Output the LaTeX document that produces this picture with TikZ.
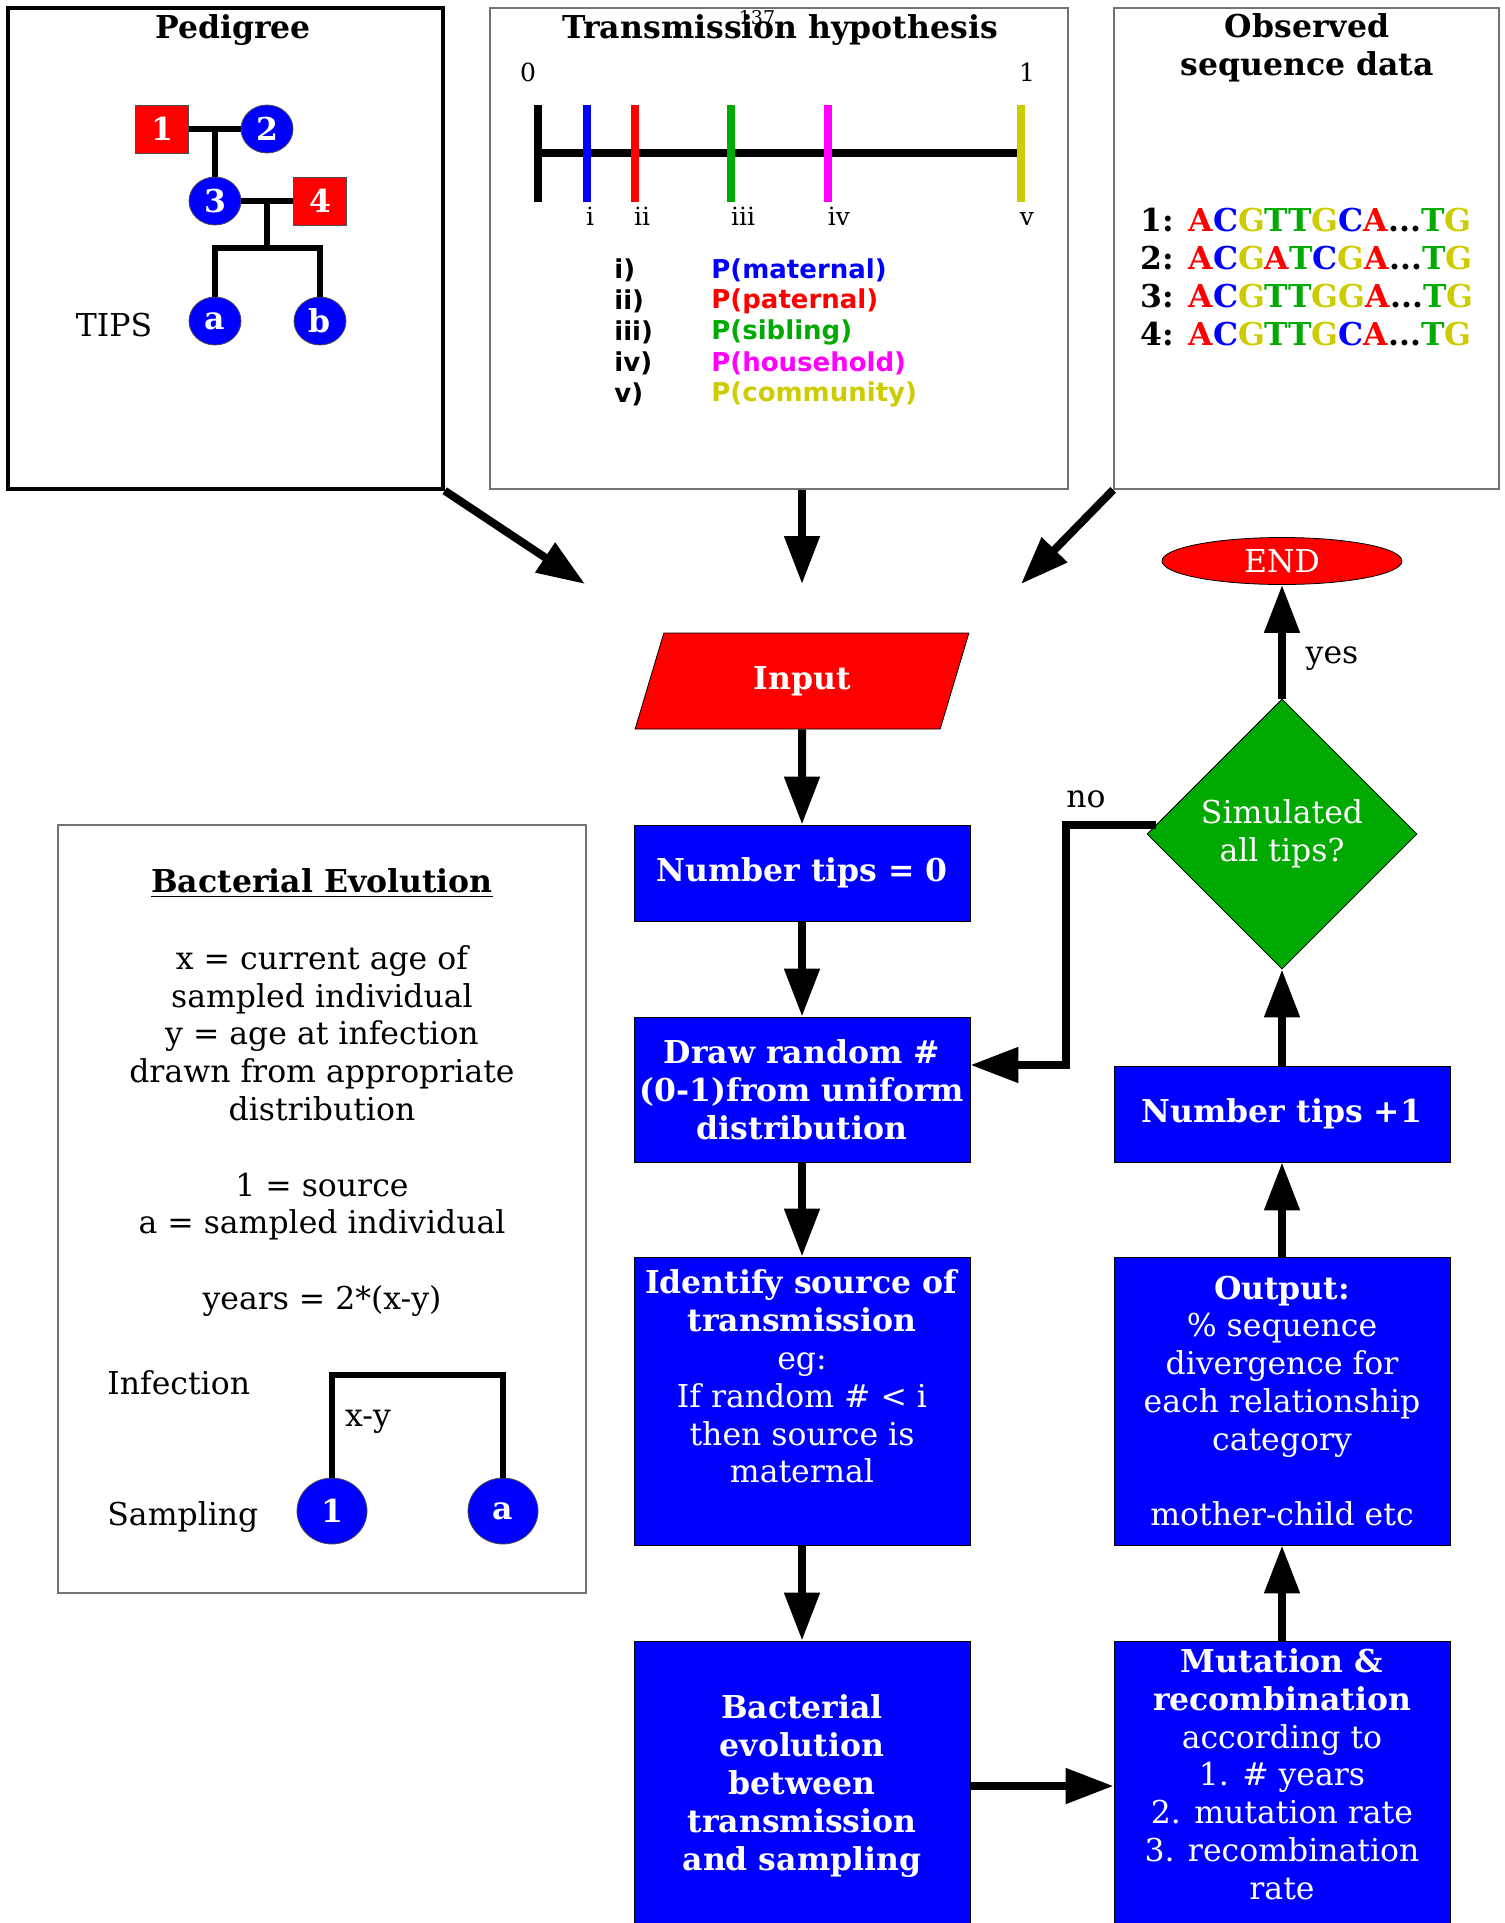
\documentclass[tikz,border=0pt]{standalone}
\usepackage{fontspec}
\setmainfont{DejaVu Serif}
\newfontfamily\legendfont{DejaVu Sans}
\usetikzlibrary{arrows.meta,shapes.geometric}

\definecolor{seqred}{RGB}{255,0,0}
\definecolor{seqblue}{RGB}{0,0,255}
\definecolor{seqgreen}{RGB}{0,170,0}
\definecolor{seqyellow}{RGB}{204,204,0}
\definecolor{seqpink}{RGB}{255,0,255}

\newcommand{\bodyfont}{\fontsize{15.75}{18.9}\selectfont}
\newcommand{\smallfont}{\fontsize{12.5}{15}\selectfont}
\newcommand{\nA}{\textcolor{seqred}{A}}
\newcommand{\nC}{\textcolor{seqblue}{C}}
\newcommand{\nG}{\textcolor{seqyellow}{G}}
\newcommand{\nT}{\textcolor{seqgreen}{T}}

\begin{document}
\begin{tikzpicture}[x=0.5pt,y=-0.5pt,font=\bodyfont,
	>={Triangle[length=24pt,width=17pt]},
	panel/.style={draw=black!55,line width=0.8pt},
	stepbox/.style={draw=black,line width=0.4pt,fill=seqblue,text=white,
		minimum width=168pt,align=center,inner sep=1pt},
	flow/.style={->,line width=4pt},
	tree/.style={line width=3.4pt},
	timeline/.style={line width=3.7pt},
	male/.style={draw=black!70,line width=0.4pt,fill=seqred,text=white,
		font=\bodyfont\bfseries,minimum width=26.5pt,minimum height=24pt,inner sep=0pt},
	female/.style={ellipse,draw=black!70,line width=0.4pt,fill=seqblue,text=white,
		font=\bodyfont\bfseries,minimum width=26pt,minimum height=24pt,inner sep=0pt},
	legend/.style={font=\legendfont\fontsize{13}{15.5}\selectfont\bfseries,anchor=west,inner sep=0pt}]
\useasboundingbox (0,0) rectangle (1505,1923);

%----------------------------
% Top left: pedigree
%----------------------------
\node[draw,line width=1.7pt,minimum width=217.5pt,minimum height=240.5pt] (pedbox) at (225.5,248.5) {};
\node (pedtitle) at (233,30) {\bfseries Pedigree};

\node[male] (p1) at (162,129) {1};
\node[female] (p2) at (267,129) {2};
\node[female] (p3) at (215,201) {3};
\node[male] (p4) at (320,201) {4};
\node[female] (pa) at (215,321) {a};
\node[female] (pb) at (320,321) {b};
\node[inner sep=0pt] (tips) at (114,325) {TIPS};

% parents and children
\coordinate (sibbar) at (267,248);
\draw[tree] (p1) -- (p2);
\draw[tree] (p3.north |- p1) -- (p3.north);
\draw[tree] (p3) -- (p4);
\draw[tree] (sibbar |- p3) -- (sibbar);
\draw[tree] (pa.north) |- (sibbar) -| (pb.north);

%----------------------------
% Top middle: transmission hypothesis
%----------------------------
\node[panel,minimum width=289pt,minimum height=240.5pt] (transbox) at (779,248.5) {};
\node (transtitle) at (780,30) {\bfseries Transmission hypothesis};
\node[font=\fontsize{9.5}{10}\selectfont,inner sep=0pt] (pagenum) at (757,18) {137};

% line from 0 to 1
\draw[timeline] (538,153) -- (1021,153);
\foreach \x/\c in {538/black,587/seqblue,635/seqred,731/seqgreen,828/seqpink,1021/seqyellow}
	\draw[timeline,\c] (\x,105) -- (\x,202);
\node[font=\smallfont,anchor=base] (zero) at (528,81) {0};
\node[font=\smallfont,anchor=base] (one) at (1027,81) {1};
\foreach \x/\n in {590/i,642/ii,743/iii,839/iv,1027/v}
	\node[font=\smallfont,anchor=base] (tick-\n) at (\x,225) {\n};

% probabilities
\foreach \n/\lab/\c/\y in {i/maternal/seqblue/270,ii/paternal/seqred/301,
	iii/sibling/seqgreen/332,iv/household/seqpink/363,v/community/seqyellow/394}{
	\node[legend] (num-\n) at (614,\y) {\n)};
	\node[legend,text=\c] (prob-\n) at (711,\y) {P(\lab)};
}

%----------------------------
% Top right: observed sequences
%----------------------------
\node[panel,minimum width=192.5pt,minimum height=240.5pt] (obsbox) at (1306.5,248.5) {};
\node[align=center,font=\bodyfont\bfseries] (obstitle) at (1307,48) {Observed\\sequence data};
\node[align=left,anchor=west,font=\bodyfont\bfseries,inner sep=0pt] (seqs) at (1140,277)
	{1: \nA\nC\nG\nT\nT\nG\nC\nA...\nT\nG\\
	 2: \nA\nC\nG\nA\nT\nC\nG\nA...\nT\nG\\
	 3: \nA\nC\nG\nT\nT\nG\nG\nA...\nT\nG\\
	 4: \nA\nC\nG\nT\nT\nG\nC\nA...\nT\nG};

% inputs into the model
\coordinate (pedtip) at (585,584);
\coordinate (transtip) at (802,584);
\coordinate (obstip) at (1021,584);
\draw[flow] (pedbox.south east) -- (pedtip);
\draw[flow] (transbox.south -| transtip) -- (transtip);
\draw[flow] (obsbox.south west) -- (obstip);

%----------------------------
% Left: bacterial evolution
%----------------------------
\node[panel,minimum width=264pt,minimum height=384pt] (evobox) at (322,1209) {};
\node (evotitle) at (322,883) {\underline{\bfseries Bacterial Evolution}};
\node[align=center] (evotext) at (322,1131)
	{x = current age of\\sampled individual\\y = age at infection\\
	 drawn from appropriate\\distribution\\[18.9pt]
	 1 = source\\a = sampled individual\\[18.9pt]
	 years = 2*(x-y)};
\node[anchor=west,inner sep=0pt] (infection) at (107,1383) {Infection};
\node[anchor=west,inner sep=0pt] (sampling) at (107,1517) {Sampling};
\node[female,minimum width=35pt,minimum height=33pt] (e1) at (332,1511) {1};
\node[female,minimum width=35pt,minimum height=33pt] (ea) at (503,1511) {a};
\coordinate (infect) at (420,1375);
\draw[tree] (e1.north) |- (infect) -| (ea.north);
\node (xy) at (368,1422) {x-y};

%----------------------------
% Flowchart
%----------------------------
\node[trapezium,trapezium left angle=75,trapezium right angle=105,trapezium stretches=true,
	draw,line width=0.4pt,fill=seqred,text=white,minimum width=168pt,minimum height=48pt,
	font=\bodyfont\bfseries] (input) at (802,681) {Input};
\node[stepbox,minimum height=48pt,font=\bodyfont\bfseries] (tips0) at (802,873) {Number tips = 0};
\node[stepbox,minimum height=72.5pt,font=\bodyfont\bfseries] (random) at (802,1089.5)
	{Draw random \#\\(0-1)from uniform\\distribution};
\node[stepbox,minimum height=144pt] (source) at (802,1401)
	{\textbf{Identify source of}\\\textbf{transmission}\\eg:\\If random \# < i\\then source is\\maternal\\\strut};
\node[stepbox,minimum height=145pt,font=\bodyfont\bfseries] (evol) at (802,1786)
	{Bacterial\\evolution\\between\\transmission\\and sampling};

\node[stepbox,minimum height=145pt,text depth=12pt] (mutate) at (1282,1786)
	{\textbf{Mutation \&}\\\textbf{recombination}\\according to\\1. \# years\\2. mutation rate\\3. recombination\\rate};
\node[stepbox,minimum height=144pt] (output) at (1282,1401)
	{\textbf{Output:}\\\% sequence\\divergence for\\each relationship\\category\\[18.9pt]mother-child etc};
\node[stepbox,minimum height=48pt,font=\bodyfont\bfseries] (tips1) at (1282,1114) {Number tips +1};
\node[diamond,draw,line width=0.4pt,fill=seqgreen,text=white,minimum width=135pt,minimum height=135pt,
	inner sep=0pt,align=center] (alltips) at (1282,834) {Simulated\\all tips?};
\node[ellipse,draw,line width=0.4pt,fill=seqred,text=white,minimum width=120pt,minimum height=23.5pt,
	inner sep=0pt] (stop) at (1282,561) {END};

\draw[flow] (input) -- (tips0);
\draw[flow] (tips0) -- (random);
\draw[flow] (random) -- (source);
\draw[flow] (source) -- (evol);
\draw[flow] (evol) -- (mutate);
\draw[flow] (mutate) -- (output);
\draw[flow] (output) -- (tips1);
\draw[flow] (tips1) -- (alltips);
\draw[flow] (alltips) -- (stop);
\node (yes) at (1332,659) {yes};

% back to the next tip
\coordinate (nocorner) at (1066,1065);
\draw[flow] ([shift={(4.5pt,4.5pt)}]alltips.west) -| (nocorner) -- (nocorner -| random.east);
\node (no) at (1086,799) {no};

\end{tikzpicture}
\end{document}
